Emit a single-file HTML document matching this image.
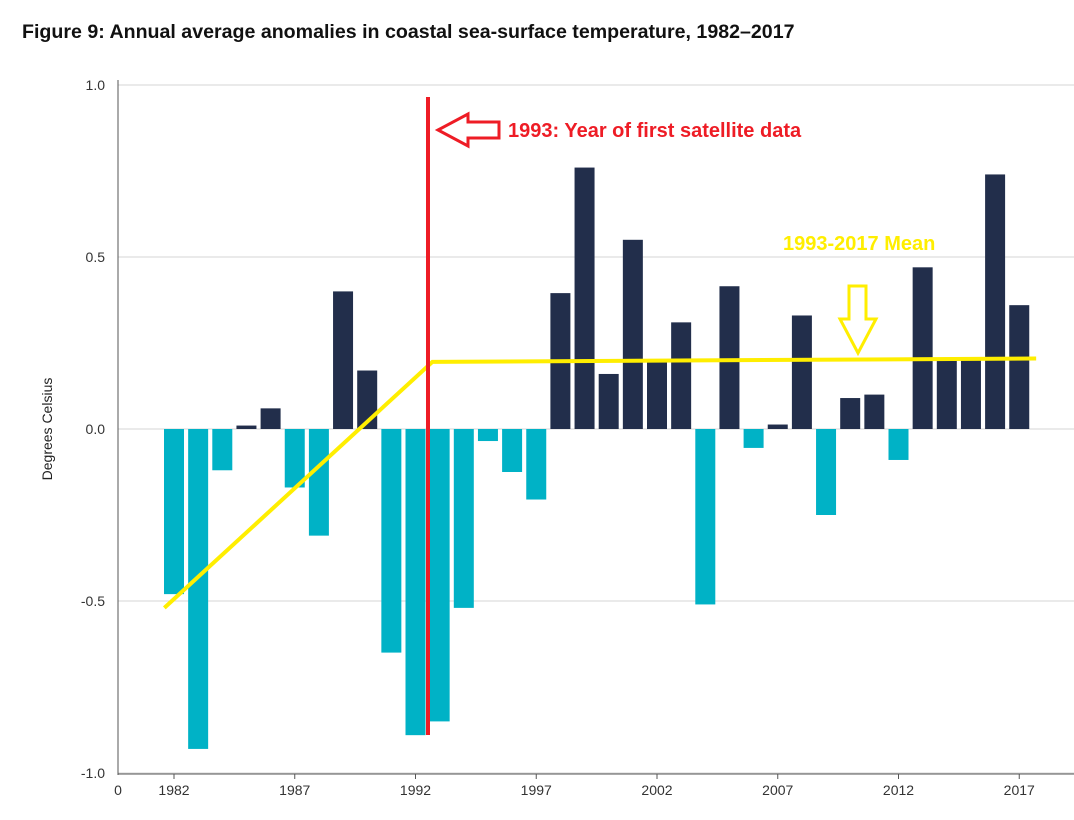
<!DOCTYPE html>
<html><head><meta charset="utf-8"><style>
body{margin:0;background:#fff;width:1074px;height:815px;overflow:hidden;font-family:"Liberation Sans",sans-serif}
</style></head><body>
<svg id="c" width="1074" height="815">
<text x="22" y="38" font-size="19.6" font-weight="bold" fill="#111">Figure 9: Annual average anomalies in coastal sea-surface temperature, 1982–2017</text>
<text transform="translate(52,429) rotate(-90)" text-anchor="middle" font-size="14" fill="#222">Degrees Celsius</text>
<g id="grid"></g><g id="bars"></g><g id="ann"></g>
</svg>
<script>
const years=[1982,1983,1984,1985,1986,1987,1988,1989,1990,1991,1992,1993,1994,1995,1996,1997,1998,1999,2000,2001,2002,2003,2004,2005,2006,2007,2008,2009,2010,2011,2012,2013,2014,2015,2016,2017];
const values=[-0.48,-0.93,-0.12,0.01,0.06,-0.17,-0.31,0.40,0.17,-0.65,-0.89,-0.85,-0.52,-0.035,-0.125,-0.205,0.395,0.76,0.16,0.55,0.2,0.31,-0.51,0.415,-0.055,0.013,0.33,-0.25,0.09,0.10,-0.09,0.47,0.2,0.2,0.74,0.36];
const yTicks=[1.0,0.5,0.0,-0.5,-1.0];
const xTickYears=[1982,1987,1992,1997,2002,2007,2012,2017];
const trendYears=[1981.6,1992.7,2017.7];
const trendValues=[-0.52,0.195,0.205];
const ns="http://www.w3.org/2000/svg";
const X=y=>174+(y-1982)*24.15;
const Y=v=>429-v*344;
function mk(t,a,p){const e=document.createElementNS(ns,t);for(const k in a)e.setAttribute(k,a[k]);p.appendChild(e);return e;}
const g=document.getElementById('grid'),b=document.getElementById('bars'),an=document.getElementById('ann');
yTicks.forEach(v=>{
 const l=mk('line',{x1:118,x2:1074,y1:Y(v),y2:Y(v),stroke:'#d6d6d6','stroke-width':1},g);
 
 
 const t=mk('text',{x:105,y:Y(v)+5,'text-anchor':'end','font-size':14,fill:'#333'},g);
 t.textContent=v.toFixed(1);
 
 
});
mk('line',{x1:118,x2:118,y1:80,y2:775,stroke:'#555'},g);
mk('line',{x1:118,x2:1074,y1:774,y2:774,stroke:'#555'},g);
const z=mk('text',{x:118,y:795,'text-anchor':'middle','font-size':14,fill:'#333'},g);z.textContent='0';
xTickYears.forEach(y=>{
 mk('line',{x1:X(y),x2:X(y),y1:774,y2:779,stroke:'#555'},g);
 const t=mk('text',{x:X(y),y:795,'text-anchor':'middle','font-size':14,fill:'#333'},g);
 t.textContent=y;
 
 
});
years.forEach((y,i)=>{
 const v=values[i];
 const r=mk('rect',{x:X(y)-10,width:20,y:Math.min(Y(v),Y(0)),height:Math.abs(Y(v)-Y(0)),fill:v>=0?'#222e4b':'#00b2c6'},b);
 
 
});
const pts=trendYears.map((y,i)=>X(y)+','+Y(trendValues[i])).join(' ');
const tl=mk('polyline',{points:pts,fill:'none',stroke:'#ffee00','stroke-width':4},an);


const rl=mk('line',{x1:428,x2:428,y1:97,y2:735,stroke:'#ee1c25','stroke-width':4},an);


const ra=mk('polygon',{points:'438,130 468,114 468,122 499,122 499,138 468,138 468,146',fill:'none',stroke:'#ee1c25','stroke-width':3},an);


const rt=mk('text',{x:508,y:137,'font-size':20,'font-weight':'bold',fill:'#ee1c25'},an);
rt.textContent='1993: Year of first satellite data';


const ya=mk('polygon',{points:'849,286 866,286 866,319 876,319 858,353 840,319 849,319',fill:'none',stroke:'#ffee00','stroke-width':3},an);


const yt=mk('text',{x:783,y:250,'font-size':20,'font-weight':'bold',fill:'#ffee00'},an);
yt.textContent='1993-2017 Mean';


</script>
</body></html>
